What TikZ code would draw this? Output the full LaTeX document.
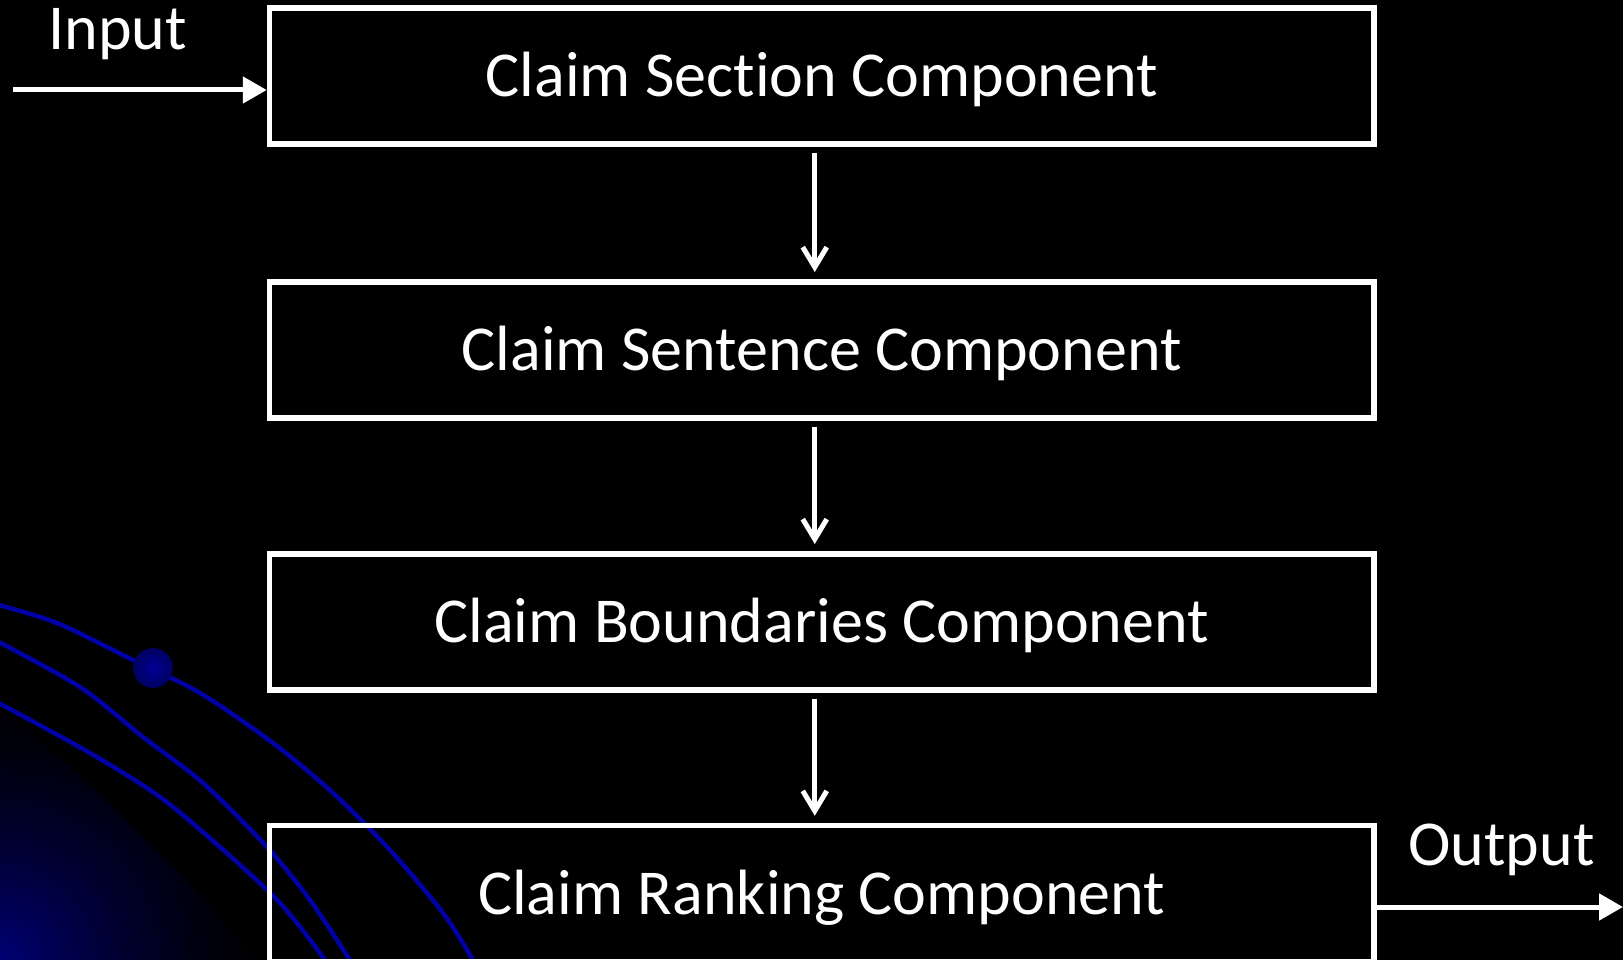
\documentclass[tikz,border=0pt]{standalone}
\usepackage{fontspec}
\setmainfont{Carlito}[Ligatures=NoCommon]
\usetikzlibrary{arrows.meta}
\definecolor{deco}{RGB}{0,0,165}
\definecolor{glow}{RGB}{0,0,118}
\definecolor{ballin}{RGB}{0,0,150}
\definecolor{ballout}{RGB}{0,0,95}
\begin{document}
\begin{tikzpicture}[x=1pt,y=-1pt,
  comp/.style={draw=white,line width=5.5pt,minimum width=1104.5pt,minimum height=136pt,
    inner sep=0pt,text=white,text height=41pt,text depth=0pt,font=\fontsize{64}{76}\selectfont},
  lbl/.style={text=white,font=\fontsize{64}{76}\selectfont,inner sep=0pt},
  flow/.style={draw=white,line width=5pt,-{Straight Barb[length=20pt,width=24pt]},
    shorten <=6pt,shorten >=7pt},
  io/.style={draw=white,line width=5pt,-{Triangle[length=24pt,width=26pt]}},
  curve/.style={draw=deco,line width=4.5pt}]
\useasboundingbox (0,0) rectangle (1623,960);
\fill[black] (0,0) rectangle (1623,960);
\clip (0,0) rectangle (1623,960);
% glow in the lower left corner
\begin{scope}
  \clip (-5,703) .. controls (80,770) and (170,860) .. (262,965) -- (-5,965) -- cycle;
  \foreach \r in {280,275,...,5} {
    \pgfmathsetmacro\p{100*((1-\r/285)^1.6)}
    \fill[glow!\p!black] (0,960) circle (\r pt);
  }
\end{scope}
% blue curves
\draw[curve] plot[smooth] coordinates {(-5,604) (57,623) (133,660) (200,693) (273,743) (333,793) (390,850) (443,913) (473,960) (495,1000)};
\draw[curve] plot[smooth] coordinates {(-5,640) (80,687) (143,737) (203,783) (267,847) (310,900) (350,960) (375,1000)};
\draw[curve] plot[smooth] coordinates {(-5,701) (90,753) (160,797) (220,847) (280,903) (325,960) (350,1000)};
\shade[inner color=ballin,outer color=ballout] (153,668) circle (20pt);
% components
\node[comp] (b1) at (821.75,76) {Claim Section Component};
\node[comp] (b2) at (821.75,349.75) {Claim Sentence Component};
\node[comp] (b3) at (821.75,621.75) {Claim Boundaries Component};
\node[comp] (b4) at (821.75,893.5) {Claim Ranking Component};
\draw[flow] ([xshift=-7pt]b1.south) -- ([xshift=-7pt]b2.north);
\draw[flow] ([xshift=-7pt]b2.south) -- ([xshift=-7pt]b3.north);
\draw[flow] ([xshift=-7pt]b3.south) -- ([xshift=-7pt]b4.north);
% input / output
\node[lbl,anchor=base] (lin) at (117.5,50) {Input};
\coordinate (in) at (13,90);
\draw[io] (in) -- (in -| b1.west);
\node[lbl,anchor=base] (lout) at (1501.5,865) {Output};
\coordinate (out) at (1623,907);
\draw[io] (out -| b4.east) -- (out);
\end{tikzpicture}
\end{document}
